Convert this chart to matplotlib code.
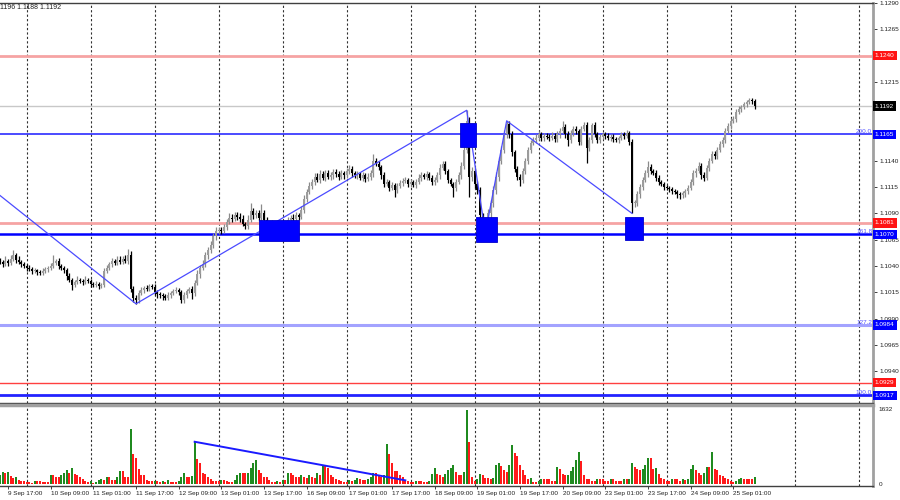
import numpy as np
import matplotlib
matplotlib.use("Agg")
import matplotlib.pyplot as plt
from matplotlib.patches import Rectangle

plt.rcParams['font.family'] = ['Liberation Sans', 'DejaVu Sans']

# ---------------- data (hourly EURUSD, prices in pips above 1.1000) ----------------
BASE = 1.1000
PIP = 0.0001
first_open_pips = 45
close_pips = [
    44, 42, 45, 43, 47, 50, 46, 44, 42, 40,
    38, 37, 35, 36, 34, 33, 35, 37, 38, 40,
    43, 45, 40, 38, 36, 30, 27, 22, 25, 27,
    26, 25, 27, 26, 23, 22, 23, 21, 22, 35,
    38, 42, 45, 43, 46, 44, 47, 45, 50, 18,
    10, 8, 14, 17, 19, 18, 21, 20, 15, 13,
    12, 11, 10, 12, 14, 16, 17, 15, 8, 12,
    16, 18, 14, 24, 32, 38, 42, 50, 55, 60,
    68, 73, 74, 73, 77, 82, 86, 85, 88, 87,
    85, 80, 78, 84, 92, 88, 90, 86, 90, 84,
    80, 79, 81, 78, 76, 79, 74, 80, 84, 86,
    85, 88, 87, 93, 104, 110, 116, 120, 125, 122,
    127, 124, 128, 125, 126, 129, 127, 125, 128, 126,
    130, 132, 128, 126, 127, 124, 126, 123, 125, 128,
    140, 137, 134, 126, 118, 120, 114, 117, 112, 116,
    119, 121, 122, 118, 120, 117, 120, 124, 126, 125,
    127, 124, 120, 122, 126, 133, 137, 130, 122, 118,
    114, 120, 126, 135, 150, 178, 125, 130, 118, 112,
    88, 82, 76, 90, 100, 112, 125, 140, 150, 165,
    175, 165, 148, 132, 125, 122, 130, 140, 150, 157,
    160, 162, 165, 162, 164, 163, 162, 164, 161, 165,
    168, 172, 165, 160, 166, 170, 168, 158, 170, 174,
    152, 160, 174, 165, 160, 163, 165, 164, 162, 163,
    161, 160, 162, 165, 164, 166, 158, 100, 100, 108,
    115, 122, 128, 134, 130, 128, 124, 120, 118, 115,
    114, 113, 111, 110, 108, 107, 109, 111, 114, 120,
    128, 130, 135, 126, 124, 133, 140, 146, 145, 150,
    156, 160, 168, 173, 178, 180, 186, 189, 191, 194,
    196, 198, 197, 192,
]
up_wick = [
    3, 2, 4, 2, 3, 5, 2, 3, 2, 2,
    2, 3, 2, 2, 1, 2, 3, 2, 2, 3,
    7, 2, 3, 2, 2, 2, 3, 2, 2, 3,
    2, 2, 3, 2, 2, 2, 3, 2, 2, 3,
    3, 2, 3, 2, 3, 3, 2, 3, 6, 4,
    3, 2, 3, 3, 2, 3, 2, 2, 3, 2,
    2, 2, 2, 3, 2, 2, 3, 2, 2, 3,
    2, 2, 3, 3, 4, 3, 4, 3, 3, 4,
    3, 4, 3, 3, 3, 3, 4, 3, 3, 3,
    3, 3, 2, 4, 8, 3, 3, 3, 9, 3,
    3, 3, 3, 2, 2, 3, 2, 3, 3, 2,
    3, 3, 2, 4, 3, 3, 4, 3, 3, 3,
    4, 3, 3, 3, 3, 3, 3, 3, 3, 2,
    3, 4, 3, 2, 3, 2, 3, 2, 3, 3,
    6, 3, 3, 2, 3, 3, 2, 3, 2, 3,
    3, 3, 3, 2, 3, 2, 3, 3, 3, 2,
    3, 2, 2, 3, 3, 4, 3, 3, 2, 2,
    2, 3, 3, 4, 4, 10, 4, 4, 3, 3,
    3, 2, 2, 4, 3, 4, 4, 4, 4, 4,
    3, 3, 3, 2, 3, 2, 3, 3, 3, 3,
    3, 3, 3, 2, 2, 2, 2, 3, 2, 3,
    3, 6, 3, 3, 3, 3, 3, 2, 3, 3,
    3, 3, 2, 3, 2, 2, 2, 2, 2, 2,
    2, 2, 2, 2, 2, 3, 2, 3, 3, 3,
    3, 3, 3, 6, 3, 2, 3, 2, 2, 2,
    2, 2, 2, 2, 2, 2, 2, 2, 3, 3,
    3, 3, 4, 3, 3, 3, 3, 3, 3, 3,
    3, 3, 3, 3, 3, 3, 3, 3, 2, 2,
    2, 2, 2, 2,
]
dn_wick = [
    2, 3, 2, 3, 2, 2, 3, 2, 3, 2,
    3, 2, 3, 2, 3, 2, 2, 2, 3, 2,
    2, 2, 3, 2, 3, 3, 2, 5, 2, 2,
    2, 3, 2, 2, 3, 2, 2, 3, 2, 2,
    2, 2, 3, 2, 2, 2, 2, 2, 3, 3,
    4, 4, 3, 2, 3, 2, 2, 2, 3, 3,
    2, 3, 2, 2, 2, 2, 2, 3, 3, 3,
    2, 2, 5, 3, 2, 3, 2, 3, 3, 3,
    3, 3, 3, 3, 2, 3, 2, 3, 2, 3,
    3, 2, 3, 3, 2, 3, 2, 3, 3, 2,
    3, 2, 2, 3, 3, 2, 4, 3, 2, 3,
    2, 3, 3, 2, 3, 3, 2, 3, 3, 2,
    3, 2, 3, 2, 3, 3, 2, 3, 2, 3,
    2, 3, 3, 2, 3, 2, 3, 3, 2, 3,
    3, 2, 3, 3, 3, 2, 3, 2, 6, 3,
    2, 3, 2, 3, 3, 2, 3, 2, 3, 2,
    3, 2, 3, 3, 2, 3, 2, 3, 3, 2,
    8, 3, 2, 3, 3, 3, 19, 4, 4, 4,
    4, 4, 5, 4, 4, 4, 4, 4, 3, 3,
    3, 3, 3, 3, 3, 6, 3, 3, 3, 3,
    2, 3, 2, 3, 3, 2, 3, 2, 3, 3,
    3, 2, 3, 6, 3, 2, 3, 3, 3, 2,
    14, 3, 3, 2, 3, 3, 2, 3, 2, 3,
    3, 2, 3, 2, 3, 2, 3, 10, 4, 3,
    3, 3, 2, 3, 3, 2, 3, 3, 2, 3,
    2, 3, 3, 2, 3, 3, 2, 3, 3, 2,
    3, 3, 2, 3, 3, 2, 3, 2, 3, 3,
    2, 3, 3, 2, 3, 2, 3, 2, 3, 2,
    3, 2, 3, 3,
]
volume = [
    200, 270, 250, 270, 180, 130, 150, 90, 75, 70,
    45, 45, 30, 70, 70, 70, 45, 45, 45, 200,
    200, 160, 150, 200, 240, 310, 250, 350, 220, 200,
    150, 100, 75, 50, 65, 20, 50, 90, 120, 90,
    160, 150, 90, 90, 160, 275, 275, 160, 160, 1210,
    650, 575, 330, 200, 190, 90, 65, 60, 65, 60,
    50, 65, 50, 90, 50, 45, 40, 75, 160, 250,
    160, 160, 180, 925, 540, 460, 250, 220, 150, 110,
    75, 65, 65, 90, 90, 65, 50, 45, 90, 200,
    250, 235, 235, 240, 350, 460, 520, 300, 240, 160,
    150, 90, 50, 50, 65, 50, 90, 90, 240, 240,
    200, 160, 150, 200, 150, 130, 200, 150, 130, 240,
    200, 400, 400, 350, 200, 150, 100, 90, 75, 50,
    40, 90, 65, 90, 130, 110, 90, 90, 110, 160,
    240, 230, 200, 160, 200, 875, 650, 460, 275, 275,
    200, 160, 90, 75, 50, 40, 75, 75, 65, 50,
    50, 65, 225, 350, 225, 200, 150, 225, 300, 340,
    425, 260, 200, 200, 260, 1620, 930, 150, 75, 100,
    225, 190, 130, 130, 110, 130, 410, 470, 400, 300,
    260, 425, 860, 670, 620, 410, 300, 200, 110, 130,
    50, 40, 75, 100, 100, 100, 100, 75, 75, 370,
    320, 225, 190, 200, 280, 370, 520, 690, 500, 200,
    110, 100, 75, 75, 110, 110, 100, 75, 75, 100,
    100, 75, 75, 75, 110, 100, 110, 450, 370, 320,
    300, 335, 410, 575, 560, 335, 350, 225, 130, 110,
    75, 75, 110, 110, 110, 75, 100, 90, 100, 335,
    410, 300, 245, 200, 245, 370, 370, 710, 335, 300,
    200, 170, 130, 110, 75, 50, 75, 100, 130, 100,
    100, 100, 100, 150,
]

date_labels = ['9 Sep 17:00', '10 Sep 09:00', '11 Sep 01:00', '11 Sep 17:00',
               '12 Sep 09:00', '13 Sep 01:00', '13 Sep 17:00', '16 Sep 09:00',
               '17 Sep 01:00', '17 Sep 17:00', '18 Sep 09:00', '19 Sep 01:00',
               '19 Sep 17:00', '20 Sep 09:00', '23 Sep 01:00', '23 Sep 17:00',
               '24 Sep 09:00', '25 Sep 01:00']
first_label_bar = 3
bars_per_label = 16

level_price = [1.1240, 1.1192, 1.1165, 1.1081, 1.1070, 1.0984, 1.0929, 1.0917]
level_text = ['1.1240', '1.1192', '1.1165', '1.1081', '1.1070', '1.0984', '1.0929', '1.0917']
fib_price = [1.1165, 1.1070, 1.0984, 1.0917]
fib_text = ['200.0', '161.8', '127.2', '100.0']

zz_bar = [0, 51, 175, 182, 190, 237]
zz_price = [1.1107, 1.1004, 1.1188, 1.1071, 1.1178, 1.1090]

box_bar_start = [97.1, 172.5, 178.5, 234.4]
box_bar_end = [112.1, 178.5, 186.3, 241.1]
box_low = [1.10635, 1.11533, 1.10626, 1.10642]
box_high = [1.10841, 1.11763, 1.1087, 1.1087]

vol_line_bar = [73, 152]
vol_line_value = [925, 80]

# ---------------- derived arrays ----------------
n = len(close_pips)
assert len(up_wick) == n and len(dn_wick) == n and len(volume) == n
idx = np.arange(n)
close = BASE + np.array(close_pips) * PIP
opn = BASE + np.r_[first_open_pips, close_pips[:-1]] * PIP
high = np.maximum(opn, close) + np.array(up_wick) * PIP
low = np.minimum(opn, close) - np.array(dn_wick) * PIP
bull = close >= opn
vol = np.array(volume, dtype=float)
vol_up = np.r_[True, vol[1:] > vol[:-1]]

# ---------------- styles ----------------
level_color = ['#f6a3a3', '#c8c8c8', '#1a1aff', '#f6a3a3', '#0000ff', '#a3a3ff', '#ff4040', '#2222ff']
level_lw = [2.0, 1.0, 1.1, 2.0, 1.8, 2.2, 1.0, 2.0]
label_bg = ['#ff1414', '#000000', '#0000ff', '#ff1414', '#0000ff', '#0000ff', '#ff1414', '#0000ff']
FS = 4.6

W, H = 900, 500
fig = plt.figure(figsize=(9, 5), dpi=100)
fig.patch.set_facecolor('white')
ax = fig.add_axes([0, (H - 403) / H, 873 / W, 400 / H])
axv = fig.add_axes([0, (H - 486) / H, 873 / W, 81 / H])

xmax = 873 / (64 / 24)
for a in (ax, axv):
    a.set_xlim(0, xmax)
    a.set_facecolor('white')
    for k in np.arange(10.24, xmax, 24):
        a.axvline(k, color='#303030', lw=0.8, ls=(0, (2, 2)), zorder=0.5)

ax.set_ylim(1.09097, 1.12889)

# horizontal levels
for p, c, lw in zip(level_price, level_color, level_lw):
    ax.axhline(p, color=c, lw=lw, zorder=1)

# candles
ax.vlines(idx[bull], low[bull], high[bull], color='#8a8a8a', lw=0.9, zorder=2)
ax.vlines(idx[~bull], low[~bull], high[~bull], color='#000000', lw=0.9, zorder=2)
body_h = np.maximum(np.abs(close - opn), 0.8 * PIP)
body_b = np.minimum(opn, close)
ax.bar(idx[bull], body_h[bull], bottom=body_b[bull], width=0.85, color='#9c9c9c',
       edgecolor='none', zorder=2.2)
ax.bar(idx[~bull], body_h[~bull], bottom=body_b[~bull], width=0.85, color='#000000',
       edgecolor='none', zorder=2.2)

# zigzag
ax.plot(zz_bar, zz_price, color='#4b4bff', lw=0.9, zorder=3)

# blue boxes
for x0, x1, lo, hi in zip(box_bar_start, box_bar_end, box_low, box_high):
    ax.add_patch(Rectangle((x0, lo), x1 - x0, hi - lo, facecolor='#0000ff',
                           edgecolor='#0000cc', lw=0.6, zorder=4))

# price axis (labels fully hidden under level boxes are omitted)
ax.yaxis.tick_right()
ticks = np.round(np.arange(1.0915, 1.12901, 0.0025), 4)
ax.set_yticks(ticks)
hidden = [t for t in ticks if min(abs(t - p) for p in level_price) < 0.0004]
ax.set_yticklabels(['' if t in hidden else f'{t:.4f}' for t in ticks])
ax.tick_params(axis='y', direction='out', length=3, width=0.6, pad=1.5,
               labelsize=FS, colors='#202020')
ax.set_xticks([])

# level label boxes
ytr = ax.get_yaxis_transform()
for p, t, bg in zip(level_price, level_text, label_bg):
    ax.text(1.002, p, t, transform=ytr, ha='left', va='center', fontsize=FS,
            color='white', zorder=6,
            bbox=dict(boxstyle='square,pad=0.35', fc=bg, ec='none'))

# fib labels
for p, t in zip(fib_price, fib_text):
    ax.text(0.999, p + 0.00003, t, transform=ytr, ha='right', va='bottom',
            fontsize=FS, color='#5050ff', zorder=6)

# spines main
ax.spines['left'].set_visible(False)
ax.spines['top'].set_color('#404040')
ax.spines['top'].set_linewidth(1.0)
ax.spines['bottom'].set_color('#404040')
ax.spines['bottom'].set_linewidth(1.0)
ax.spines['right'].set_color('#a0a0a0')
ax.spines['right'].set_linewidth(2.0)

# volume panel
axv.bar(idx, vol, width=0.8, color=np.where(vol_up, '#1f8a1f', '#ff1a1a'),
        edgecolor='none', zorder=2)
axv.plot(vol_line_bar, vol_line_value, color='#1a1aff', lw=1.4, zorder=3)
axv.set_ylim(-44, 1730)
axv.yaxis.tick_right()
axv.set_yticks([0, 1632])
axv.set_yticklabels(['0', '1632'])
axv.tick_params(axis='y', direction='out', length=0, pad=4, labelsize=FS, colors='#202020')
label_bars = first_label_bar + bars_per_label * np.arange(len(date_labels))
axv.set_xticks(label_bars)
axv.set_xticklabels(date_labels)
axv.tick_params(axis='x', direction='out', length=2, width=0.6, pad=1.5,
                labelsize=FS, colors='#202020')
for lbl in axv.get_xticklabels():
    lbl.set_ha('left')
axv.spines['left'].set_visible(False)
axv.spines['top'].set_color('#a0a0a0')
axv.spines['top'].set_linewidth(2.5)
axv.spines['bottom'].set_color('#404040')
axv.spines['bottom'].set_linewidth(1.0)
axv.spines['right'].set_color('#a0a0a0')
axv.spines['right'].set_linewidth(2.0)

# header
fig.text(0.0005, 1 - 7.5 / H, '1196 1.1188 1.1192', fontsize=FS + 0.4, color='#202020',
         ha='left', va='center')

fig.savefig('out.png', dpi=100, facecolor='white')
